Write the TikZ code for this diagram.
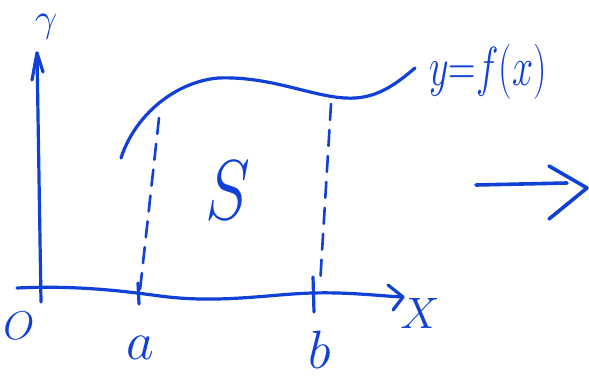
\RequirePackage{fix-cm}
\documentclass[tikz,border=0pt]{standalone}
\usetikzlibrary{arrows.meta}
\definecolor{pen}{RGB}{16,64,214}
\begin{document}
\begin{tikzpicture}[x=1pt,y=-1pt,
  ink/.style={draw=pen,line width=3.2pt,line cap=round,line join=round},
  dashink/.style={ink,line width=2.6pt,dash pattern=on 16pt off 10pt},
  lab/.style={text=pen,inner sep=0pt,font=\fontsize{40}{48}\selectfont}]
\useasboundingbox (0,0) rectangle (589,382);
% coordinates
\coordinate (yb) at (41,302);
\coordinate (yt) at (37,53);
\coordinate (xl) at (17,288);
\coordinate (xr) at (403,297);
% axes
\draw[ink] (yb) -- (yt);
\draw[ink] (32,80) -- (yt) -- (43,72);
\draw[ink] (xl) .. controls (80,285) and (130,292) .. (160,296)
  .. controls (220,304) and (270,294) .. (313,293)
  .. controls (350,292) and (380,296) .. (xr);
\draw[ink] (388,285) -- (xr) -- (393,310);
% ticks
\draw[ink] (138,283) -- (139,304);
\draw[ink] (313,277) -- (314,312);
% curve
\coordinate (c0) at (121,158);
\coordinate (c1) at (218,78);
\coordinate (c2) at (345,98);
\coordinate (c3) at (415,68);
\draw[ink] (c0) .. controls (135,115) and (175,82) .. (c1)
  .. controls (270,76) and (310,96) .. (c2)
  .. controls (375,100) and (395,85) .. (c3);
% dashed
\draw[dashink] (159,118) -- (140,290);
\draw[dashink] (331,104) -- (320,285);
% labels
\node[lab] (Y) at (46,27) {$\gamma$};
\node[lab] (O) at (19,326) {$O$};
\node[lab,font=\fontsize{54}{60}\selectfont] (A) at (140,348) {$a$};
\node[lab,font=\fontsize{54}{60}\selectfont] (B) at (320,350) {$b$};
\node[lab,font=\fontsize{44}{50}\selectfont] (X) at (420,313) {$X$};
\node[lab,font=\fontsize{85}{90}\selectfont] (S) at (228,190) {\scalebox{0.8}[1]{$S$}};
\node[lab,font=\fontsize{38}{44}\selectfont] (F) at (488,72) {\scalebox{1}[1.45]{$y{=}f(x)$}};
% right arrow
\coordinate (r0) at (476,185);
\coordinate (r1) at (567,183);
\draw[ink,line width=3.6pt] (r0) -- (r1);
\draw[ink,line width=3.6pt] (549,166) -- (587,188) -- (549,219);
\end{tikzpicture}
\end{document}
